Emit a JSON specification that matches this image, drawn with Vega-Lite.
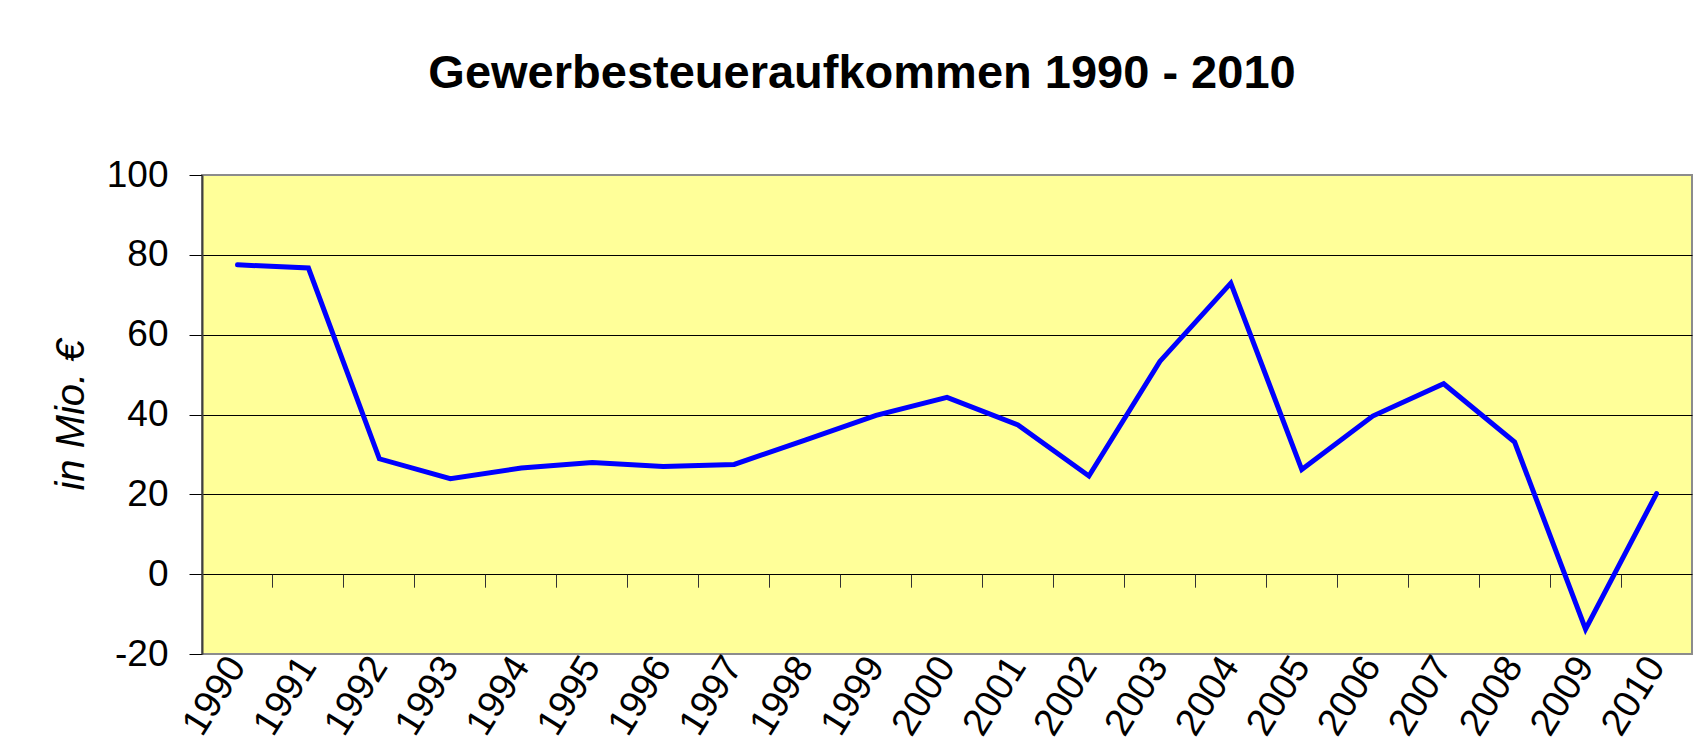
{
  "$schema": "https://vega.github.io/schema/vega-lite/v6.json",
  "autosize": {"type": "none"},
  "padding": {"left": 202, "top": 175, "right": 3, "bottom": 91},
  "width": 1490,
  "height": 479,
  "background": "white",
  "title": {
    "text": "Gewerbesteueraufkommen 1990 - 2010",
    "font": "Liberation Sans",
    "fontSize": 47,
    "fontWeight": "bold",
    "color": "black",
    "anchor": "middle",
    "frame": "group",
    "dx": -85,
    "offset": 21,
    "baseline": "alphabetic"
  },
  "data": {
    "values": [
      {"year": "1990", "value": 77.5},
      {"year": "1991", "value": 76.7},
      {"year": "1992", "value": 28.9},
      {"year": "1993", "value": 23.9},
      {"year": "1994", "value": 26.6},
      {"year": "1995", "value": 28.0},
      {"year": "1996", "value": 27.0},
      {"year": "1997", "value": 27.5},
      {"year": "1998", "value": 33.6},
      {"year": "1999", "value": 39.8},
      {"year": "2000", "value": 44.3},
      {"year": "2001", "value": 37.4},
      {"year": "2002", "value": 24.6},
      {"year": "2003", "value": 53.3},
      {"year": "2004", "value": 72.9},
      {"year": "2005", "value": 26.2},
      {"year": "2006", "value": 39.6},
      {"year": "2007", "value": 47.7},
      {"year": "2008", "value": 33.1},
      {"year": "2009", "value": -13.8},
      {"year": "2010", "value": 20.2}
    ]
  },
  "encoding": {
    "y": {
      "field": "value",
      "type": "quantitative",
      "scale": {"domain": [-20, 100], "nice": false, "zero": false},
      "axis": {
        "values": [-20, 0, 20, 40, 60, 80, 100],
        "labelExpr": "'' + datum.value",
        "title": "in Mio. €",
        "titleFont": "Liberation Sans",
        "titleFontSize": 40,
        "titleFontStyle": "italic",
        "titleFontWeight": "normal",
        "titleColor": "black",
        "titlePadding": 15,
        "labelFont": "Liberation Sans",
        "labelFontSize": 37,
        "labelColor": "black",
        "labelPadding": 21,
        "tickSize": 13,
        "tickColor": "black",
        "tickWidth": 1,
        "domainColor": "#404040",
        "domainWidth": 2,
        "grid": true,
        "gridColor": {"condition": {"test": "datum.value === 100 || datum.value === -20", "value": "#8c8c8c"}, "value": "black"},
        "gridWidth": 1,
        "gridOpacity": 1
      }
    }
  },
  "layer": [
    {
      "mark": {"type": "line", "color": "#0000FF", "strokeWidth": 5, "strokeCap": "round"},
      "encoding": {
        "x": {
          "field": "year",
          "type": "ordinal",
          "bandPosition": 0.5,
          "scale": {"type": "band", "paddingInner": 0, "paddingOuter": 0},
          "axis": {
            "title": null,
            "orient": "bottom",
            "bandPosition": 0.5,
            "ticks": false,
            "domain": false,
            "grid": false,
            "labelAngle": -58,
            "labelFont": "Liberation Sans",
            "labelFontSize": 38,
            "labelColor": "black",
            "labelPadding": 6,
            "labelOverlap": false,
            "labelBound": false,
            "labelFlush": false
          }
        }
      }
    },
    {
      "mark": {"type": "line", "strokeOpacity": 0},
      "encoding": {
        "x": {
          "field": "year",
          "type": "ordinal",
          "bandPosition": 0.5,
          "axis": {
            "title": null,
            "orient": "bottom",
            "offset": -79.8,
            "bandPosition": 0,
            "labels": false,
            "domain": false,
            "grid": false,
            "ticks": true,
            "tickSize": 13,
            "tickColor": "#333333",
            "tickWidth": 1
          }
        }
      }
    }
  ],
  "resolve": {"axis": {"x": "independent"}},
  "config": {
    "view": {"fill": "#FFFF99", "stroke": "#8c8c8c", "strokeWidth": 2}
  }
}
